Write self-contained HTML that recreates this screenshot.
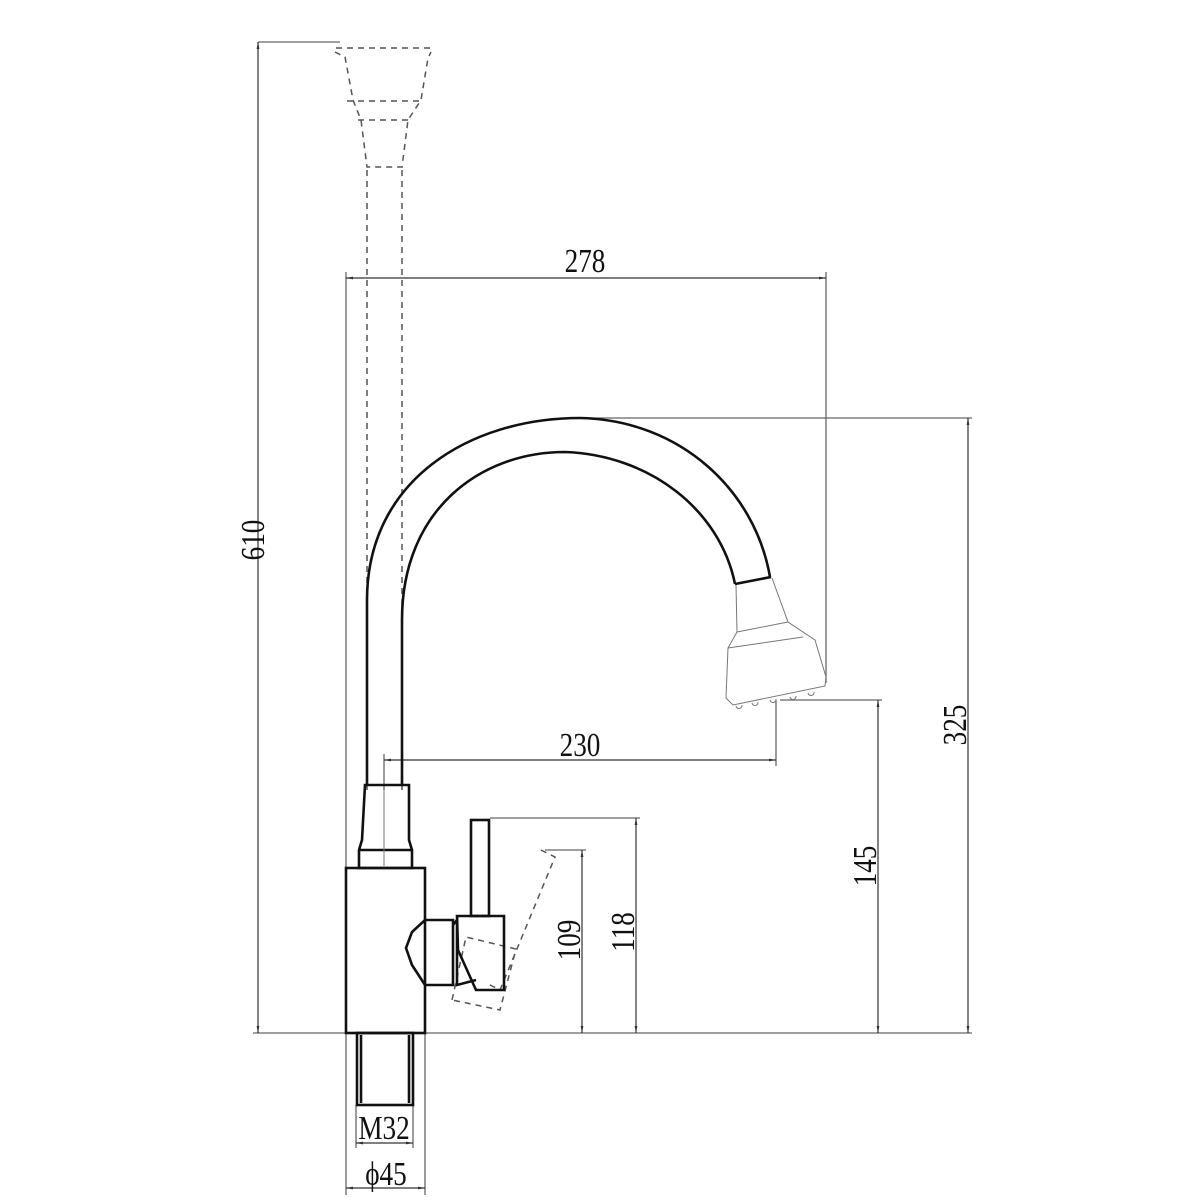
<!DOCTYPE html>
<html><head><style>html,body{margin:0;padding:0;background:#fff}svg{display:block}text{font-family:"Liberation Serif",serif;font-size:34px;fill:#111}</style></head>
<body>
<svg width="1200" height="1200" viewBox="0 0 1200 1200" xmlns="http://www.w3.org/2000/svg">
<defs>
<marker id="a" viewBox="0 0 10 10" refX="10" refY="5" markerWidth="6" markerHeight="6" orient="auto-start-reverse"><path d="M0,3 L10,5 L0,7z" fill="#333"/></marker>
</defs>
<g stroke="#666" stroke-width="1.3" fill="none">
<line x1="258" y1="42" x2="340" y2="42"/>
<line x1="253" y1="1033" x2="972" y2="1033"/>
<line x1="346" y1="272" x2="346" y2="868"/>
<line x1="826" y1="272" x2="826" y2="683"/>
<line x1="580" y1="418" x2="972" y2="418"/>
<line x1="780" y1="700" x2="882" y2="700"/>
<line x1="384" y1="754" x2="384" y2="790"/>
<line x1="776" y1="700" x2="776" y2="766"/>
<line x1="490" y1="818" x2="640" y2="818"/>
<line x1="545" y1="850" x2="586" y2="850"/>
<line x1="346" y1="1033" x2="346" y2="1195"/>
<line x1="425" y1="1033" x2="425" y2="1195"/>
<line x1="356" y1="1105" x2="356" y2="1148"/>
<line x1="413" y1="1105" x2="413" y2="1148"/>
</g>
<g stroke="#333" stroke-width="1.2" fill="none">
<line x1="258" y1="42" x2="258" y2="1033" marker-start="url(#a)" marker-end="url(#a)"/>
<line x1="346" y1="278" x2="826" y2="278" marker-start="url(#a)" marker-end="url(#a)"/>
<line x1="968" y1="418" x2="968" y2="1033" marker-start="url(#a)" marker-end="url(#a)"/>
<line x1="878" y1="700" x2="878" y2="1033" marker-start="url(#a)" marker-end="url(#a)"/>
<line x1="384" y1="760" x2="776" y2="760" marker-start="url(#a)" marker-end="url(#a)"/>
<line x1="636" y1="818" x2="636" y2="1033" marker-start="url(#a)" marker-end="url(#a)"/>
<line x1="582" y1="850" x2="582" y2="1033" marker-start="url(#a)" marker-end="url(#a)"/>
<line x1="356" y1="1143" x2="413" y2="1143" marker-start="url(#a)" marker-end="url(#a)"/>
<line x1="346" y1="1188" x2="425" y2="1188" marker-start="url(#a)" marker-end="url(#a)"/>
</g>
<g stroke="#555" stroke-width="1.5" fill="none" stroke-dasharray="6,5">
<line x1="367" y1="170" x2="367" y2="790"/>
<line x1="402" y1="170" x2="402" y2="790"/>
<path d="M335,52 L345,57 L353,100 L361,120 L367,167 L402,167 L408,120 L421,100 L428,58 L431,52"/>
<line x1="347" y1="101" x2="420" y2="101"/>
<line x1="358" y1="120" x2="410" y2="120"/>
<path d="M336,48 L430,48"/>
<path d="M541,850 L555,857 L500,990 L486,983"/>
<path d="M452,1000 L466,937 L516,949 L500,1010 Z"/>
</g>
<g stroke="#111" stroke-width="2.6" fill="none">
<path d="M367,785 L367,600 C367,480 470,418 580,418 C680,420 755,490 770,577"/>
<path d="M402,785 L402,620 C402,510 480,452 565,452 C650,455 720,510 735,584"/>
<line x1="735" y1="584" x2="771" y2="577"/>
<path d="M365,785 L409,785 L409,840 L412,850 L412,868 L359,868 L359,850 L362,840 Z"/>
<line x1="360" y1="850" x2="412" y2="850"/>
<rect x="346" y="868" width="79" height="165"/>
<path d="M425,920 L453,920 L453,985 L425,985 L412,965 L406,948 L412,932 Z"/>
<rect x="471" y="820" width="18" height="96"/>
<path d="M457,916 L504,916 L504,990 L476,990 L458,950 Z"/>
<path d="M453,925 L457,920 L457,985 L476,980"/>
<rect x="357" y="1033" width="56" height="72"/>
<line x1="361" y1="1035" x2="361" y2="1103"/>
<line x1="409" y1="1035" x2="409" y2="1103"/>
</g>
<g stroke="#777" stroke-width="1" fill="none">
<line x1="384" y1="790" x2="384" y2="866"/>
<path d="M736,585 L737,632 L728,648 L726,698 L733,705 L825,686 L826,677 L815,640 L788,622 L772,578"/>
<line x1="737" y1="632" x2="788" y2="622"/>
<line x1="728" y1="648" x2="803" y2="637"/>
<path d="M736,706 a3,3 0 0 0 6,-1 M752,703 a3,3 0 0 0 6,-1 M770,700 a3,3 0 0 0 6,-1 M790,697 a3,3 0 0 0 6,-1 M808,693 a3,3 0 0 0 6,-1"/>
</g>
<text transform="translate(585,272) scale(0.8,1)" text-anchor="middle">278</text>
<text transform="translate(580,756) scale(0.8,1)" text-anchor="middle">230</text>
<text transform="translate(264,540) rotate(-90) scale(0.8,1)" text-anchor="middle">610</text>
<text transform="translate(966,725) rotate(-90) scale(0.8,1)" text-anchor="middle">325</text>
<text transform="translate(876,866) rotate(-90) scale(0.8,1)" text-anchor="middle">145</text>
<text transform="translate(634,932) rotate(-90) scale(0.8,1)" text-anchor="middle">118</text>
<text transform="translate(580,940) rotate(-90) scale(0.8,1)" text-anchor="middle">109</text>
<text transform="translate(384,1139) scale(0.8,1)" text-anchor="middle">M32</text>
<text transform="translate(386,1185) scale(0.8,1)" text-anchor="middle">ϕ45</text>
</svg>
</body></html>
